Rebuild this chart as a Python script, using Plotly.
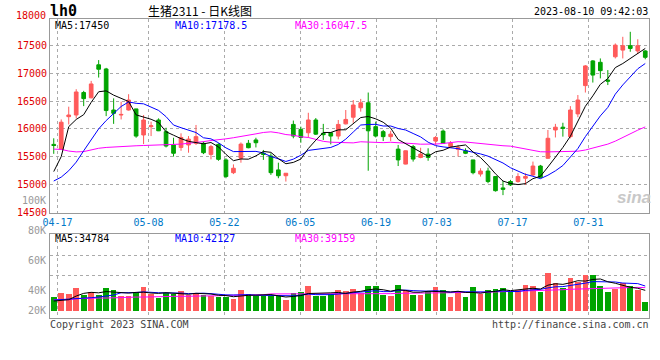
import pandas as pd
import plotly.graph_objects as go

# ---------------- data ----------------
holidays = ['2023-05-01', '2023-05-02', '2023-05-03', '2023-06-22', '2023-06-23']
days = [d for d in pd.bdate_range('2023-04-14', '2023-08-10')
        if d.strftime('%Y-%m-%d') not in holidays]
dates = [d.strftime('%m-%d') for d in days]
tick_labels = ['04-17', '05-08', '05-22', '06-05', '06-19', '07-03', '07-17', '07-31']

opens = [15720, 15630, 16220, 16250, 16655, 16560, 17155, 17080, 16340, 16250,
         16340, 16360, 15890, 16040, 16160, 15950, 15710, 15665, 15710, 15740,
         15740, 15540, 15720, 15440, 15210, 15470, 15740, 15800, 15560, 15510,
         15260, 15155, 16080, 15990, 15930, 16160, 15920, 15930, 15870, 16090,
         16210, 16380, 16470, 16040, 15950, 15860, 15635, 15365, 15680, 15485,
         15545, 15780, 15960, 15680, 15630, 15605, 15440, 15185, 15240, 15140,
         14935, 15050, 15050, 15110, 15170, 15330, 15470, 15980, 16030, 15860,
         16270, 16780, 17225, 17200, 16880, 17300, 17420, 17500, 17405, 17405]
highs = [15830, 16170, 16400, 16715, 16685, 16865, 17240, 17100, 16550, 16490,
         16625, 16360, 16250, 16130, 16190, 16020, 15840, 15920, 15870, 16070,
         15770, 15710, 15740, 15470, 15360, 15755, 15800, 15840, 15620, 15560,
         15390, 15200, 16150, 16040, 16290, 16195, 16090, 15940, 16160, 16340,
         16520, 16540, 16655, 16130, 15980, 15965, 15710, 15610, 15710, 15660,
         15650, 15870, 15990, 15780, 15710, 15650, 15440, 15290, 15300, 15140,
         15060, 15080, 15200, 15200, 15410, 15350, 15980, 16090, 16110, 16410,
         16610, 17150, 17240, 17270, 17060, 17540, 17660, 17750, 17615, 17420]
lows = [15550, 15620, 16080, 16190, 16410, 16550, 16925, 16230, 16090, 16170,
        16330, 15840, 15725, 15870, 15960, 15665, 15500, 15605, 15570, 15710,
        15545, 15450, 15425, 15110, 15185, 15390, 15650, 15665, 15440, 15170,
        15110, 15050, 15830, 15750, 15845, 15890, 15800, 15720, 15810, 16080,
        16110, 16310, 15245, 15845, 15780, 15780, 15330, 15360, 15410, 15470,
        15425, 15710, 15730, 15665, 15500, 15545, 15180, 15140, 15020, 14870,
        14805, 14970, 15030, 14990, 15150, 15110, 15460, 15845, 15860, 15830,
        16210, 16655, 16835, 16910, 16790, 17270, 17270, 17390, 17350, 17255]
closes = [15700, 16120, 16250, 16665, 16545, 16810, 17075, 16330, 16280, 16260,
          16520, 15870, 16160, 16055, 15965, 15690, 15560, 15845, 15815, 15860,
          15570, 15680, 15450, 15140, 15290, 15725, 15660, 15750, 15540, 15210,
          15155, 15200, 15870, 15845, 16160, 15905, 15895, 15870, 16080, 16170,
          16430, 16470, 15965, 15870, 15860, 15905, 15440, 15605, 15455, 15545,
          15485, 15845, 15740, 15740, 15665, 15560, 15210, 15240, 15050, 14885,
          14910, 14990, 15140, 15140, 15330, 15125, 15830, 16030, 16010, 16340,
          16520, 17135, 16970, 17050, 16860, 17510, 17500, 17450, 17500, 17290]
volumes = [23900, 30200, 28500, 39300, 26200, 32500, 26200, 39300, 35300, 25000,
           24500, 32500, 41000, 27900, 22200, 30200, 27900, 34200, 26200, 30200,
           26800, 25000, 23900, 23300, 20500, 35300, 28500, 25000, 24500, 24500,
           24500, 18200, 30200, 31900, 42100, 25000, 25000, 28500, 35300, 33600,
           37000, 30700, 42100, 42100, 26800, 25000, 43800, 35300, 26800, 26800,
           33600, 40400, 35300, 23300, 33600, 23300, 40400, 28500, 35300, 37000,
           38700, 31900, 35300, 43800, 42100, 31900, 64900, 47300, 38700, 55800,
           49500, 61500, 61500, 42600, 32250, 36400, 46800, 41500, 34800, 14420]

# moving-average values before enough in-window history exists
ma5_head = [15230, 15500, 16040, 16170]
ma10_head = [15060, 15130, 15245, 15400, 15605, 15800, 16000, 16150, 16280]
ma30_head = [15635, 15630, 15600, 15585, 15590, 15620, 15650, 15665, 15675, 15680,
             15690, 15695, 15700, 15705, 15710, 15710, 15715, 15725, 15740, 15750,
             15770, 15790, 15800, 15820, 15840, 15860, 15885, 15910, 15935]
vol_ma5_head = [16500, 17600, 18800, 25000]
vol_ma10_head = [18200, 18800, 19400, 19900, 21100, 22200, 23300, 25000, 26800]
vol_ma30_head = [18800, 18800, 18800, 20500, 21100, 21100, 21600, 21600, 22200, 22800,
                 22800, 23300, 23300, 23900, 23900, 23900, 24500, 24500, 24500, 25000,
                 25000, 25600, 25600, 26200, 26200, 26800, 26800, 27300, 27300]

price_ma_labels = ['MA5:17450', 'MA10:17178.5', 'MA30:16047.5']
vol_ma_labels = ['MA5:34784', 'MA10:42127', 'MA30:39159']
price_ticks = [14500, 15000, 15500, 16000, 16500, 17000, 17500]
vol_labels = ['100K', '80K', '60K', '40K', '20K']

# ---------------- helpers ----------------
W, H = 660, 360
RED, GREEN = '#ff5a5a', '#00a400'
MONO = 'DejaVu Sans Mono'


def ma(values, n, head):
    s = pd.Series(values, dtype=float).rolling(n).mean().tolist()
    return list(head) + s[len(head):]


def px(x):
    return x / W


def py(y):
    return 1 - y / H


xs = list(range(len(dates)))
n = len(xs)
tick_idx = [dates.index(t) for t in tick_labels]
# Sina places its date grid on a (n-1) spaced scale
tick_pos = [-0.5 + i * n / (n - 1) for i in tick_idx]

ma5 = ma(closes, 5, ma5_head)
ma10 = ma(closes, 10, ma10_head)
ma30 = ma(closes, 30, ma30_head)
vma5 = ma(volumes, 5, vol_ma5_head)
vma10 = ma(volumes, 10, vol_ma10_head)
vma30 = ma(volumes, 30, vol_ma30_head)
bar_colors = [RED if c >= o else GREEN for o, c in zip(opens, closes)]

fig = go.Figure()
fig.add_trace(go.Candlestick(
    x=xs, open=opens, high=highs, low=lows, close=closes,
    increasing=dict(line=dict(color=RED, width=1), fillcolor=RED),
    decreasing=dict(line=dict(color=GREEN, width=1), fillcolor=GREEN),
    whiskerwidth=0, xaxis='x', yaxis='y', hoverinfo='skip'))
for vals, col in [(ma30, '#ff00ff'), (ma10, '#0000ff'), (ma5, '#000000')]:
    fig.add_trace(go.Scatter(x=xs, y=vals, mode='lines', line=dict(color=col, width=1),
                             xaxis='x', yaxis='y', hoverinfo='skip'))
fig.add_trace(go.Bar(x=xs, y=volumes, base=0, width=0.76,
                     marker=dict(color=bar_colors, line=dict(width=0)),
                     xaxis='x2', yaxis='y2', hoverinfo='skip'))
for vals, col in [(vma30, '#ff00ff'), (vma10, '#0000ff'), (vma5, '#000000')]:
    fig.add_trace(go.Scatter(x=xs, y=vals, mode='lines', line=dict(color=col, width=1),
                             xaxis='x2', yaxis='y2', hoverinfo='skip'))

# pixel geometry of the two panels
L, R = 50, 649
MT, MB = 19, 213
VT, VB, VBASE = 234.3, 317.7, 310.7
P_PER_PX = 18.03            # price units per pixel
V_PER_PX = 1708             # volume units per pixel
y17500 = 45.67
p_top = 17500 + (y17500 - MT) * P_PER_PX
p_bot = 17500 - (MB - y17500) * P_PER_PX
v_top = (VBASE - VT) * V_PER_PX
v_bot = -(VB - VBASE) * V_PER_PX
vgrid = [(VBASE - 255) * V_PER_PX, (VBASE - 275.7) * V_PER_PX]

grid = dict(showgrid=True, gridcolor='#aaaaaa', griddash='dot', gridwidth=1,
            showline=True, linecolor='#999999', linewidth=1, mirror=True,
            zeroline=False, ticks='', fixedrange=True, automargin=False)

fig.update_layout(
    width=W, height=H, margin=dict(l=0, r=0, t=0, b=0, autoexpand=False),
    paper_bgcolor='white', plot_bgcolor='white', showlegend=False,
    font=dict(family=MONO, size=10, color='#000'),
    bargap=0,
    xaxis=dict(domain=[px(L), px(R)], anchor='y', range=[-0.5, n - 0.5],
               tickmode='array', tickvals=tick_pos, ticktext=tick_labels,
               tickfont=dict(family=MONO, size=10, color='#0078c8'),
               rangeslider=dict(visible=False), **grid),
    yaxis=dict(domain=[py(MB), py(MT)], anchor='x', range=[p_bot, p_top],
               tickmode='array', tickvals=price_ticks, tickformat='d',
               tickfont=dict(family=MONO, size=10, color='#e00000'), **grid),
    xaxis2=dict(domain=[px(L), px(R)], anchor='y2', range=[-0.5, n - 0.5],
                tickmode='array', tickvals=tick_pos, showticklabels=False, **grid),
    yaxis2=dict(domain=[py(VB), py(VT)], anchor='x2', range=[v_bot, v_top],
                tickmode='array', tickvals=vgrid, showticklabels=False, **grid),
)

ann = []


def text(t, x, y, anchor='left', color='#000', size=10, family=MONO, bold=False):
    ann.append(dict(text=f'<b>{t}</b>' if bold else t, x=px(x), y=py(y), xref='paper', yref='paper',
                    xanchor=anchor, yanchor='middle', showarrow=False, borderpad=0,
                    font=dict(family=family, size=size, color=color)))


text('lh0', 49, 11, bold=True, size=15)
text('生猪2311 - 日K线图', 200, 10, anchor='center', size=12, family='Noto Sans CJK SC')
text('2023-08-10 09:42:03', 649, 12, anchor='right')
text('18000', 47, 15.5, anchor='right', color='#e00000')
for t, x, c in zip(price_ma_labels, [54, 174, 294], ['#000', '#0000ff', '#ff00ff']):
    text(t, x, 25.5, color=c)
for t, x, c in zip(vol_ma_labels, [54, 174, 294], ['#000', '#0000ff', '#ff00ff']):
    text(t, x, 238.5, color=c)
for t, y in zip(vol_labels, [200.7, 230.7, 260.7, 290.7, 310.7]):
    text(t, 47, y, anchor='right', color='#999999')
text('Copyright 2023 SINA.COM', 49, 324, color='#444')
text('http://finance.sina.com.cn', 650, 324, anchor='right', color='#444')
text('<i>sina</i>', 652, 197, anchor='right', color='#c8c8c8', size=17,
     family='Liberation Sans', bold=True)
fig.update_layout(annotations=ann)

fig.write_html('out.html', config={'displayModeBar': False, 'staticPlot': True},
               post_script="document.body.style.margin='0';")
